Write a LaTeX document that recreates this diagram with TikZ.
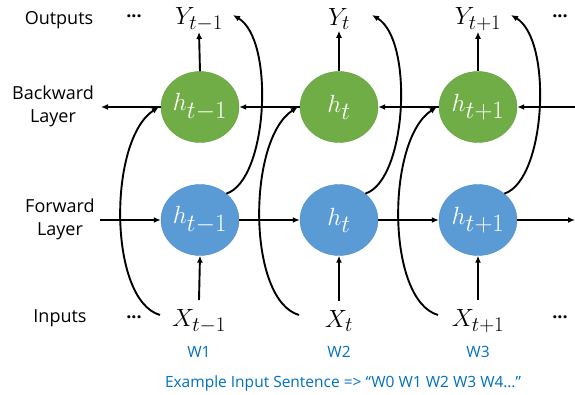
\documentclass[tikz,border=0pt]{standalone}
\usepackage{fontspec}
\setmainfont{Open Sans}
\usetikzlibrary{shapes.geometric,arrows.meta,calc}
\definecolor{gfill}{RGB}{112,173,71}
\definecolor{gdraw}{RGB}{100,160,60}
\definecolor{bfill}{RGB}{91,155,213}
\definecolor{bdraw}{RGB}{80,140,200}
\definecolor{wblue}{RGB}{0,112,192}
\begin{document}
\begin{tikzpicture}[x=1pt,y=-1pt,
  cell/.style={ellipse,minimum width=78pt,minimum height=71pt,inner sep=0pt,text=white,font=\fontsize{33}{33}\selectfont},
  bwcell/.style={cell,fill=gfill,draw=gdraw},
  fwcell/.style={cell,fill=bfill,draw=bdraw},
  arr/.style={line width=1.9pt,-{Latex[length=7pt,width=6pt]}},
  lbl/.style={font=\fontsize{18}{23}\selectfont,align=center},
  mathlbl/.style={font=\fontsize{30}{30}\selectfont,inner sep=1pt},
  wlbl/.style={text=wblue,font=\fontsize{15.5}{18}\selectfont},
  dotslbl/.style={font=\fontsize{18}{18}\bfseries\selectfont}]
\useasboundingbox (0,0) rectangle (575,395);
% left labels
\node[lbl] (lout) at (59,20) {Outputs};
\node[lbl] (lbw) at (53,106) {Backward\\Layer};
\node[lbl] (lfw) at (60,219) {Forward\\Layer};
\node[lbl] (lin) at (60,318) {Inputs};
\node[dotslbl] (d1) at (134,16) {...};
\node[dotslbl] (d2) at (134,317) {...};
\node[dotslbl] (d3) at (560,16) {...};
\node[dotslbl] (d4) at (560,317) {...};
% cells
\node[bwcell] (b1) at (200,107) {$h_{t-1}$};
\node[bwcell] (b2) at (339,107) {$h_{t}$};
\node[bwcell] (b3) at (478,107) {$h_{t+1}$};
\node[fwcell] (f1) at (200,220) {$h_{t-1}$};
\node[fwcell] (f2) at (339,220) {$h_{t}$};
\node[fwcell] (f3) at (478,220) {$h_{t+1}$};
% outputs
\node[mathlbl] (y1) at (199,19) {$Y_{t-1}$};
\node[mathlbl] (y2) at (339,19) {$Y_{t}$};
\node[mathlbl] (y3) at (478,19) {$Y_{t+1}$};
% inputs
\node[mathlbl] (x1) at (199,321) {$X_{t-1}$};
\node[mathlbl] (x2) at (339,321) {$X_{t}$};
\node[mathlbl] (x3) at (478,321) {$X_{t+1}$};
% words
\node[wlbl] (w1) at (199,352) {W1};
\node[wlbl] (w2) at (339,352) {W2};
\node[wlbl] (w3) at (478,352) {W3};
\node[wlbl] (ex) at (343,383) {Example Input Sentence => “W0 W1 W2 W3 W4…”};
% free ends
\coordinate (bl) at (101,107);
\coordinate (br) at (576,107);
\coordinate (fl) at (100,220);
\coordinate (fr) at (575,220);
% vertical arrows
\foreach \i in {1,2,3}{
  \draw[arr] (b\i.north) -- (y\i.south);
  \draw[arr] ($(x\i.north)+(0,-8)$) -- (f\i.south);
}
% backward chain
\draw[arr] (br) -- (b3.east);
\draw[arr] (b3.west) -- (b2.east);
\draw[arr] (b2.west) -- (b1.east);
\draw[arr] (b1.west) -- (bl);
% forward chain
\draw[arr] (fl) -- (f1.west);
\draw[arr] (f1.east) -- (f2.west);
\draw[arr] (f2.east) -- (f3.west);
\draw[arr] (f3.east) -- (fr);
% inputs to backward layer, forward to outputs
\foreach \i/\cx in {1/200,2/339,3/478}{
  \draw[arr] ($(\cx,315)+(-40,0)$) .. controls (\cx-92,300) and (\cx-92,140) .. ($(b\i.west)+(-2,0)$);
  \draw[arr] (f\i.45) .. controls (\cx+68,180) and (\cx+75,40) .. ($(\cx,15)+(33,0)$);
}
\end{tikzpicture}
\end{document}
